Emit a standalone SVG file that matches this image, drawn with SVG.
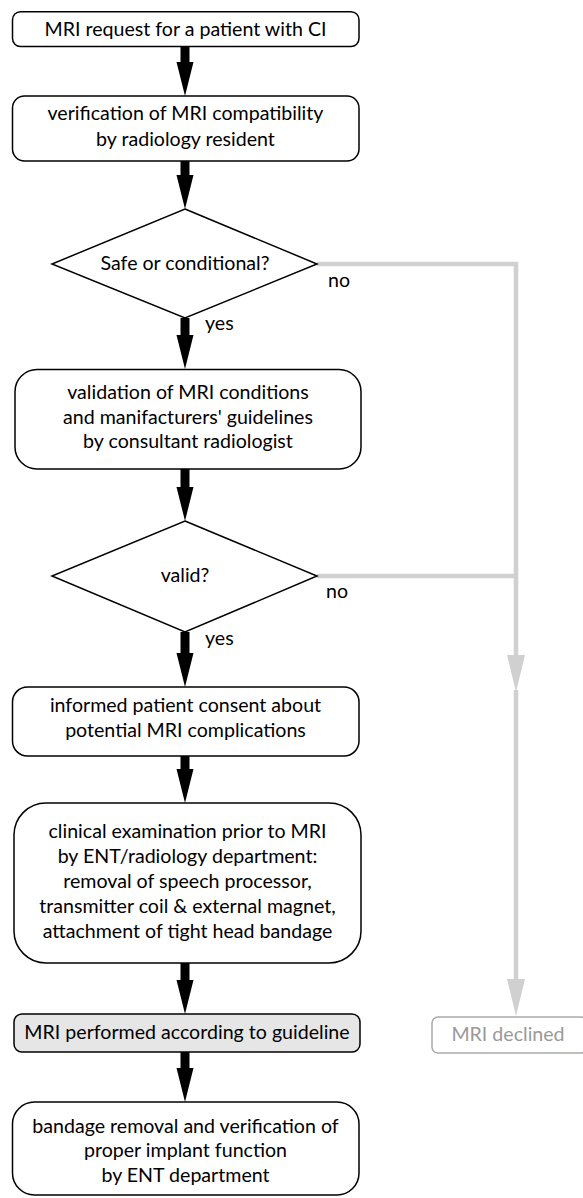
<svg xmlns="http://www.w3.org/2000/svg" width="583" height="1198" viewBox="0 0 583 1198">
<style>
.box{fill:#fff;stroke:#000;stroke-width:1.5}
.gbox{fill:#e6e6e6;stroke:#000;stroke-width:1.5}
.dbox{fill:#fff;stroke:#aaa;stroke-width:1.5}
.t{font-family:Lato,"Liberation Sans",sans-serif;font-size:19.6px;fill:#000;text-anchor:middle}
.lbl{font-family:Lato,"Liberation Sans",sans-serif;font-size:19.6px;fill:#000}
.td{font-family:Lato,"Liberation Sans",sans-serif;font-size:19.6px;fill:#999;text-anchor:middle}
.a{stroke:#000;stroke-width:9;fill:none;marker-end:url(#ah)}
.g{stroke:#d0d0d0;stroke-width:4.5;fill:none}
.ga{marker-end:url(#gh)}
</style>
<defs>
<marker id="ah" markerUnits="userSpaceOnUse" markerWidth="34" markerHeight="17" refX="0" refY="8.5" orient="auto" overflow="visible">
<path d="M0,0 L34,8.5 L0,17 z" fill="#000"/>
</marker>
<marker id="gh" markerUnits="userSpaceOnUse" markerWidth="37" markerHeight="18" refX="0" refY="9" orient="auto" overflow="visible">
<path d="M0,0 L37,9 L0,18 z" fill="#d0d0d0"/>
</marker>
</defs>
<g id="connectors">
<path class="a" d="M185,46.5 V62"/>
<path class="a" d="M185,161 V175"/>
<path class="a" d="M185,318 V335"/>
<path class="a" d="M185,469 V487"/>
<path class="a" d="M185,632 V653"/>
<path class="a" d="M185,756 V769"/>
<path class="a" d="M185,963 V980"/>
<path class="a" d="M185,1052 V1068"/>
<path class="g ga" d="M317,264 H516 V655"/>
<path class="g" d="M317,576 H516"/>
<path class="g ga" d="M516,690 V979"/>
<text class="lbl" x="328" y="287">no</text>
<text class="lbl" x="205" y="330">yes</text>
<text class="lbl" x="326" y="598">no</text>
<text class="lbl" x="205" y="645">yes</text>
</g>
<g id="n1">
<rect class="box" x="12.5" y="11.7" width="346.5" height="34.8" rx="8"/>
<text class="t" x="185.5" y="35.5">MRI request for a patient with CI</text>
</g>
<g id="n2">
<rect class="box" x="12.5" y="96" width="346.5" height="65" rx="12"/>
<text class="t" x="185.5" y="120">verification of MRI compatibility</text>
<text class="t" x="185.5" y="146">by radiology resident</text>
</g>
<g id="d1">
<path class="box" d="M185,209 L317,264 L185,318 L52,264 z"/>
<text class="t" x="185" y="270">Safe or conditional?</text>
</g>
<g id="n3">
<rect class="box" x="15" y="369.5" width="346" height="99.5" rx="22"/>
<text class="t" x="188" y="399">validation of MRI conditions</text>
<text class="t" x="188" y="424">and manifacturers' guidelines</text>
<text class="t" x="188" y="448">by consultant radiologist</text>
</g>
<g id="d2">
<path class="box" d="M185,521 L317,576 L185,632 L52,576 z"/>
<text class="t" x="185" y="582">valid?</text>
</g>
<g id="n4">
<rect class="box" x="12.5" y="687" width="346.5" height="69" rx="15"/>
<text class="t" x="185.5" y="712">informed patient consent about</text>
<text class="t" x="185.5" y="737">potential MRI complications</text>
</g>
<g id="n5">
<rect class="box" x="14" y="803" width="347" height="160" rx="32"/>
<text class="t" x="187.5" y="838">clinical examination prior to MRI</text>
<text class="t" x="187.5" y="863">by ENT/radiology department:</text>
<text class="t" x="187.5" y="888">removal of speech processor,</text>
<text class="t" x="187.5" y="913">transmitter coil &amp; external magnet,</text>
<text class="t" x="187.5" y="938">attachment of tight head bandage</text>
</g>
<g id="n6">
<rect class="gbox" x="14" y="1014" width="346" height="38" rx="8"/>
<text class="t" x="187" y="1039">MRI performed according to guideline</text>
</g>
<g id="n7">
<rect class="box" x="12.5" y="1102" width="346.5" height="93" rx="22"/>
<text class="t" x="185.5" y="1133">bandage removal and verification of</text>
<text class="t" x="185.5" y="1157">proper implant function</text>
<text class="t" x="185.5" y="1182">by ENT department</text>
</g>
<g id="n8">
<rect class="dbox" x="432" y="1017" width="155" height="36" rx="6"/>
<text class="td" x="508" y="1041">MRI declined</text>
</g>
</svg>
